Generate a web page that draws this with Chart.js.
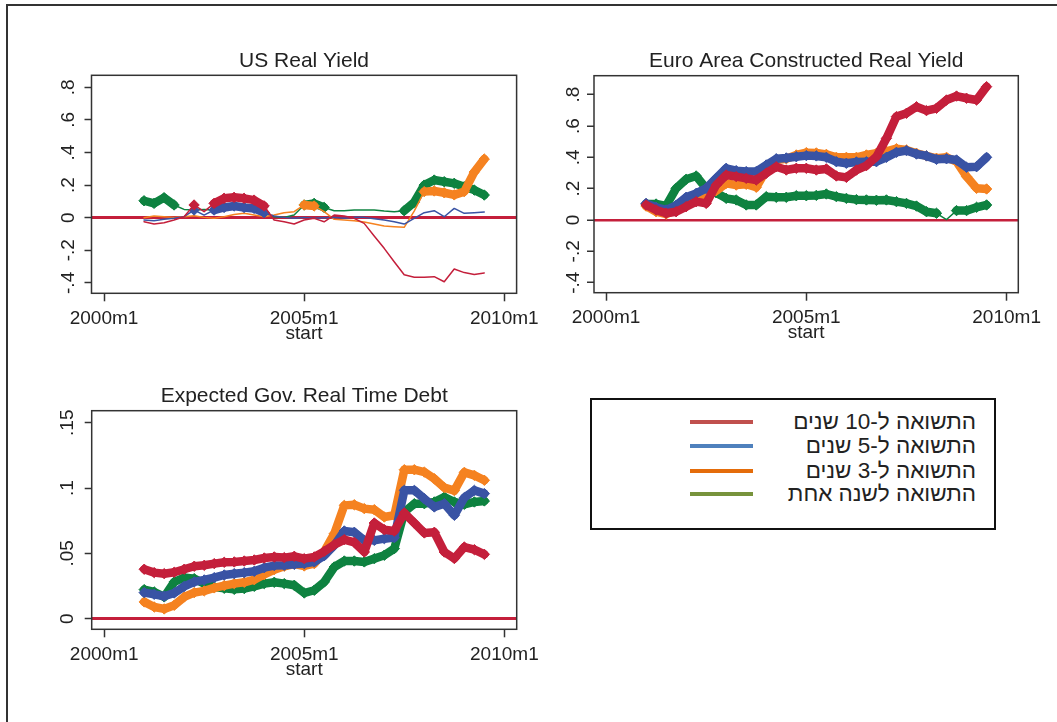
<!DOCTYPE html>
<html>
<head>
<meta charset="utf-8">
<script src="https://cdn.jsdelivr.net/npm/chart.js@4.4.1/dist/chart.umd.min.js"></script>
<style>
    body { margin: 0; background: #fff; width: 1057px; height: 722px; overflow: hidden; position: relative;
           font-family: "Liberation Sans", Arial, sans-serif; }
    .frame { position: absolute; left: 6px; top: 4px; width: 1200px; height: 800px;
             border-top: 2px solid #333; border-left: 2px solid #333; }
    canvas { position: absolute; }
    #legend { position: absolute; left: 590px; top: 398px; width: 402px; height: 128px; border: 2px solid #111; }
    #legend .swatch { position: absolute; left: 98px; width: 63px; height: 4px; }
    #legend .label { position: absolute; right: 18px; height: 24px; line-height: 24px; font-size: 22.5px;
                     direction: rtl; color: #222; white-space: nowrap; }
</style>
</head>
<body>
<div class="frame"></div>
<canvas id="usChart" width="550" height="360" style="left:0;top:0"></canvas>
<canvas id="euroChart" width="527" height="360" style="left:530px;top:0"></canvas>
<canvas id="debtChart" width="550" height="362" style="left:0;top:360px"></canvas>
<div id="legend"></div>

<script>
// rolling-window start months (every 3 months)
const startMonths = ['2001m1', '2001m4', '2001m7', '2001m10', '2002m1', '2002m4', '2002m7', '2002m10',
    '2003m1', '2003m4', '2003m7', '2003m10', '2004m1', '2004m4', '2004m7', '2004m10',
    '2005m1', '2005m4', '2005m7', '2005m10', '2006m1', '2006m4', '2006m7', '2006m10',
    '2007m1', '2007m4', '2007m7', '2007m10', '2008m1', '2008m4', '2008m7', '2008m10',
    '2009m1', '2009m4', '2009m7'];
const xTickLabels = ['2000m1', '2005m1', '2010m1'];

const legendLabels = ['התשואה ל-10 שנים', 'התשואה ל-5 שנים', 'התשואה ל-3 שנים', 'התשואה לשנה אחת'];
const legendColors = ['#C0504D', '#4F81BD', '#E46C0A', '#77933C'];
const seriesColors = ['#C41F3B', '#3953A4', '#F58220', '#0E8240'];

// US Real Yield
const usYTicks = [-0.4, -0.2, 0, 0.2, 0.4, 0.6, 0.8];
const usYLabels = ['-.4', '-.2', '0', '.2', '.4', '.6', '.8'];
const us10 = [-.025, -.039, -.031, -.014, .006, .078, .037, .088, .119, .125, .119, .108, .072, -.014, -.025, -.039,
    -.014, -.004, -.025, .016, .010, -.004, -.035, -.112, -.188, -.270, -.350, -.366, -.366, -.362, -.393, -.315,
    -.337, -.348, -.339];
const us5 = [-.014, -.018, -.010, -.004, .006, .047, .016, .047, .063, .072, .063, .057, .031, .010, .002, -.004,
    .002, -.004, .000, .002, -.004, .002, .002, -.006, -.014, -.025, -.039, -.004, .031, .043, .006, .057,
    .027, .031, .035];
const us3 = [.000, .010, .006, .002, .006, .012, .002, -.004, .006, .020, .027, .016, .006, .016, .031, .037,
    .078, .072, .037, -.010, -.014, -.018, -.027, -.039, -.051, -.055, -.059, .040, .160, .164, .153, .140,
    .160, .280, .360];
const us1 = [.104, .088, .123, .078, .051, .047, .051, .047, .055, .063, .063, .051, .027, .006, .002, .016,
    .078, .088, .063, .043, .043, .047, .047, .047, .041, .037, .043, .095, .200, .231, .221, .211,
    .190, .170, .139];
const usSig10 = [[5, 5], [7, 12]];
const usSig5 = [[5, 5], [7, 12]];
const usSig3 = [[16, 17], [28, 34]];
const usSig1 = [[0, 3], [16, 18], [26, 34]];

// Euro Area Constructed Real Yield
const euroYTicks = [-0.4, -0.2, 0, 0.2, 0.4, 0.6, 0.8];
const euroYLabels = ['-.4', '-.2', '0', '.2', '.4', '.6', '.8'];
const euro10 = [.096, .064, .043, .053, .085, .117, .106, .223, .287, .277, .266, .255, .298, .340, .319, .330,
    .330, .319, .326, .281, .272, .319, .347, .404, .521, .660, .681, .723, .698, .713, .766, .791,
    .777, .766, .851];
const euro5 = [.106, .081, .064, .094, .145, .170, .202, .266, .330, .315, .309, .309, .351, .391, .396, .404,
    .411, .409, .400, .372, .362, .370, .372, .372, .400, .432, .443, .421, .409, .387, .391, .383,
    .336, .340, .400];
const euro3 = [.089, .053, .038, .064, .096, .138, .166, .187, .234, .223, .228, .209, .319, .383, .391, .415,
    .430, .428, .419, .400, .400, .400, .415, .426, .438, .455, .447, .426, .409, .394, .400, .372,
    .277, .202, .198];
const euro1 = [.102, .102, .090, .202, .260, .281, .202, .174, .138, .128, .096, .096, .149, .145, .145, .155,
    .155, .157, .166, .149, .138, .130, .128, .126, .128, .117, .106, .089, .053, .043, .003, .060,
    .060, .081, .096];
const euroSig10 = [[0, 34]];
const euroSig5 = [[0, 34]];
const euroSig3 = [[0, 34]];
const euroSig1 = [[0, 29], [31, 34]];

// Expected Gov. Real Time Debt
const debtYTicks = [0, 0.05, 0.1, 0.15];
const debtYLabels = ['0', '.05', '.1', '.15'];
const debt10 = [.0378, .0352, .0344, .0355, .0378, .0401, .0408, .0421, .0431, .0434, .0441, .0449, .0464, .0472, .0467, .0477,
    .0459, .0472, .0515, .0566, .0605, .0584, .0510, .0732, .0681, .0671, .0809, .0732, .0656, .0661, .0510, .0460,
    .0548, .0528, .0492];
const debt5 = [.0199, .0186, .0171, .0196, .0247, .0281, .0296, .0314, .0334, .0344, .0352, .0362, .0390, .0406, .0408, .0416,
    .0421, .0434, .0482, .0561, .0671, .0661, .0599, .0599, .0612, .0620, .0982, .0982, .0918, .0855, .0880, .0791,
    .0926, .0982, .0957];
const debt3 = [.0128, .0089, .0074, .0102, .0166, .0199, .0212, .0235, .0253, .0268, .0278, .0298, .0337, .0375, .0401, .0418,
    .0403, .0421, .0515, .0651, .0867, .0872, .0842, .0834, .0778, .0791, .1140, .1140, .1122, .1071, .1003, .0980,
    .1120, .1097, .1059];
const debt1 = [.0222, .0204, .0166, .0281, .0314, .0306, .0268, .0242, .0232, .0224, .0230, .0247, .0268, .0278, .0268, .0255,
    .0196, .0217, .0281, .0395, .0441, .0441, .0434, .0459, .0485, .0536, .0816, .0880, .0880, .0893, .0931, .0893,
    .0875, .0893, .0901];
const debtSig = [[0, 34]];

const monthIndex = (s) => {
    const [y, m] = s.split('m').map(Number);
    return (y - 2000) * 12 + m - 1;
};
const xTickValues = xTickLabels.map(monthIndex);

Chart.defaults.font.family = '"Liberation Sans", Arial, sans-serif';
Chart.defaults.color = '#222';

const plotBox = {
    id: 'plotBox',
    afterDatasetsDraw(chart) {
        const { ctx, chartArea: a } = chart;
        ctx.save();
        ctx.strokeStyle = '#333';
        ctx.lineWidth = 1.5;
        ctx.strokeRect(a.left, a.top, a.right - a.left, a.bottom - a.top);
        ctx.restore();
    }
};

// Stata-style vertical y tick labels
const rotatedYLabels = {
    id: 'rotatedYLabels',
    afterDraw(chart, args, opts) {
        const { ctx, chartArea } = chart;
        const scale = chart.scales.y;
        ctx.save();
        ctx.font = '19px "Liberation Sans", Arial, sans-serif';
        ctx.fillStyle = '#222';
        ctx.textAlign = 'center';
        ctx.textBaseline = 'middle';
        scale.ticks.forEach((t, i) => {
            ctx.save();
            ctx.translate(chartArea.left - opts.offset, scale.getPixelForValue(t.value));
            ctx.rotate(-Math.PI / 2);
            ctx.fillText(opts.labels[i], 0, 0);
            ctx.restore();
        });
        ctx.restore();
    }
};

const inRanges = (ranges, k) => ranges.some(([a, b]) => k >= a && k <= b);

const makePanel = (canvasId, p) => {
    const datasets = p.series.map((values, i) => ({
        data: startMonths.map((s, k) => ({ x: monthIndex(s), y: values[k] })),
        borderColor: seriesColors[i],
        backgroundColor: seriesColors[i],
        borderWidth: 1.5,
        borderCapStyle: 'round',
        borderJoinStyle: 'round',
        pointStyle: 'rectRot',
        pointRadius: (ctx) => inRanges(p.sigs[i], ctx.dataIndex) ? 5.2 : 0,
        pointBorderWidth: 1,
        segment: {
            borderWidth: (ctx) => inRanges(p.sigs[i], ctx.p0DataIndex) && inRanges(p.sigs[i], ctx.p1DataIndex) ? 8.5 : 1.5
        },
        tension: 0
    }));

    return new Chart(document.getElementById(canvasId), {
        type: 'line',
        data: { datasets },
        plugins: [plotBox, rotatedYLabels],
        options: {
            responsive: false,
            devicePixelRatio: 1,
            animation: false,
            events: [],
            layout: { padding: { left: 0, top: 0, right: p.padRight, bottom: p.padBottom } },
            scales: {
                x: {
                    type: 'linear',
                    min: p.xMin,
                    max: p.xMax,
                    afterBuildTicks: (s) => { s.ticks = xTickValues.map(v => ({ value: v })); },
                    afterFit: (s) => { s.height = 50; },
                    ticks: {
                        autoSkip: false,
                        maxRotation: 0,
                        padding: 8,
                        color: '#222',
                        font: { size: 19, lineHeight: 1 },
                        callback: (v) => xTickLabels[xTickValues.indexOf(v)]
                    },
                    grid: { drawOnChartArea: false, tickLength: 8, tickColor: '#333', tickWidth: 1.5 },
                    border: { display: false },
                    title: { display: true, text: 'start', color: '#222', font: { size: 19, lineHeight: 1 }, padding: 0 }
                },
                y: {
                    type: 'linear',
                    min: p.yMin,
                    max: p.yMax,
                    afterBuildTicks: (s) => { s.ticks = p.yTicks.map(v => ({ value: v })); },
                    afterFit: (s) => { s.width = p.yWidth; },
                    ticks: { display: false },
                    grid: {
                        color: (ctx) => ctx.tick && ctx.tick.value === 0 ? '#C41F3B' : 'rgba(0,0,0,0)',
                        lineWidth: p.zeroWidth,
                        tickColor: '#333',
                        tickWidth: 1.5,
                        tickLength: 7
                    },
                    border: { display: false }
                }
            },
            plugins: {
                legend: { display: false },
                tooltip: { enabled: false },
                title: {
                    display: true,
                    text: p.title,
                    fullSize: false,
                    color: '#222',
                    font: { size: 21, weight: 'normal', lineHeight: 1.2 },
                    padding: { top: p.titleTop, bottom: p.titleBottom }
                },
                rotatedYLabels: { labels: p.yLabels, offset: p.labelOffset }
            }
        }
    });
};

makePanel('usChart', {
    title: 'US Real Yield',
    series: [us10, us5, us3, us1],
    sigs: [usSig10, usSig5, usSig3, usSig1],
    yTicks: usYTicks, yLabels: usYLabels,
    xMin: -3.75, xMax: 123.7, yMin: -0.464, yMax: 0.874,
    yWidth: 91.5, padRight: 33.4, padBottom: 16.7, titleTop: 49.1, titleBottom: 1.0,
    zeroWidth: 3, labelOffset: 23
});

makePanel('euroChart', {
    title: 'Euro Area Constructed Real Yield',
    series: [euro10, euro5, euro3, euro1],
    sigs: [euroSig10, euroSig5, euroSig3, euroSig1],
    yTicks: euroYTicks, yLabels: euroYLabels,
    xMin: -3.6, xMax: 123.5, yMin: -0.464, yMax: 0.921,
    yWidth: 64, padRight: 38.7, padBottom: 17.3, titleTop: 49.1, titleBottom: 1.4,
    zeroWidth: 2.5, labelOffset: 20.5
});

makePanel('debtChart', {
    title: 'Expected Gov. Real Time Debt',
    series: [debt10, debt5, debt3, debt1],
    sigs: [debtSig, debtSig, debtSig, debtSig],
    yTicks: debtYTicks, yLabels: debtYLabels,
    xMin: -3.75, xMax: 123.7, yMin: -0.0082, yMax: 0.1592,
    yWidth: 91.7, padRight: 33.3, padBottom: 42.7, titleTop: 23.4, titleBottom: 2.1,
    zeroWidth: 3, labelOffset: 23.5
});

// legend panel
const legend = document.getElementById('legend');
const rowCenters = [21.7, 46, 70.7, 94];
legendLabels.forEach((text, i) => {
    const swatch = document.createElement('div');
    swatch.className = 'swatch';
    swatch.style.top = (rowCenters[i] - 2) + 'px';
    swatch.style.background = legendColors[i];
    legend.appendChild(swatch);

    const label = document.createElement('div');
    label.className = 'label';
    label.style.top = (rowCenters[i] - 12) + 'px';
    label.textContent = text;
    legend.appendChild(label);
});
</script>
</body>
</html>
